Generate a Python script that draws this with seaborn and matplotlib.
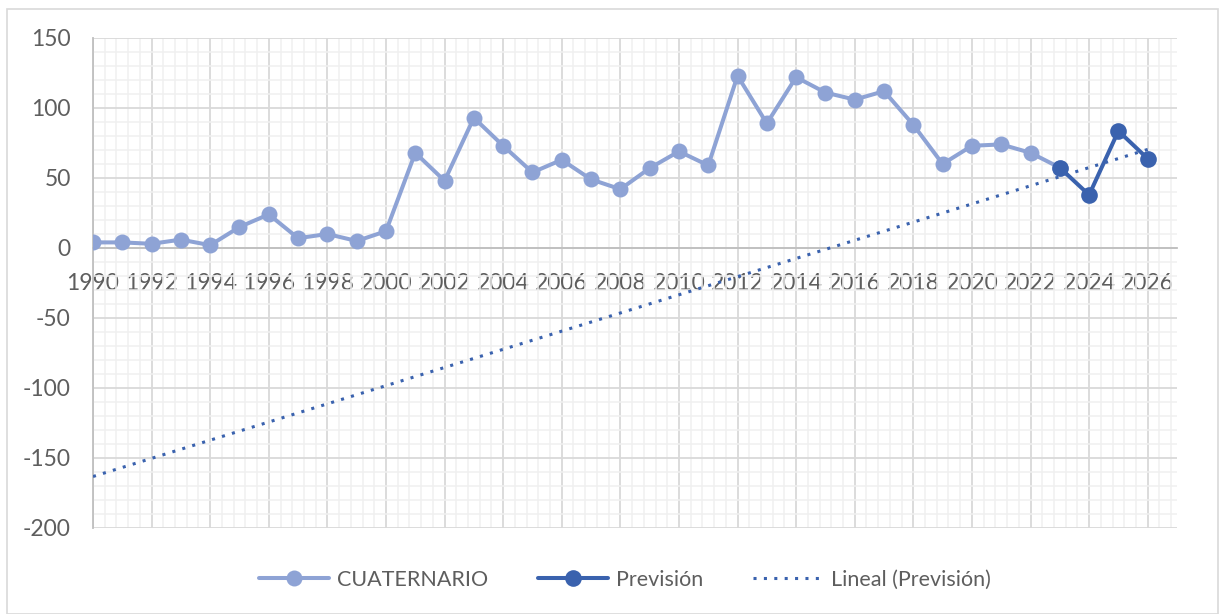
import numpy as np
import pandas as pd
import matplotlib
matplotlib.use("Agg")
import matplotlib.pyplot as plt
from matplotlib.ticker import MultipleLocator
from matplotlib.patches import Rectangle
import seaborn as sns

# Series data
years_hist = list(range(1990, 2024))
cuaternario = [4, 4, 3, 6, 2, 15, 24, 7, 10, 5, 12, 68, 48, 93, 73, 54, 63, 49, 42,
               57, 69, 59, 123, 89, 122, 111, 106, 112, 88, 60, 73, 74, 68, 57.4]
years_prev = [2023, 2024, 2025, 2026]
prevision = [57.4, 37.9, 83.6, 63.8]

# Linear trend of the forecast series, drawn across the full year span
coef = np.polyfit(years_prev, prevision, 1)
years_trend = np.array([1990, 2026])
trend = np.polyval(coef, years_trend)

light = "#8EA3D5"
dark = "#3A62AE"
text_color = "#5E5E5E"

sns.set_theme(style="white")
plt.rcParams["font.family"] = ["Lato", "DejaVu Sans"]
plt.rcParams["axes.unicode_minus"] = False

fig = plt.figure(figsize=(12.2, 6.14), dpi=100)
ax = fig.add_axes([93 / 1220, 1 - 528 / 614, (1177 - 93) / 1220, (528 - 38) / 614])

# Chart frame
fig.patches.append(Rectangle((7 / 1220, 0), 1 - 9 / 1220, 1 - 9 / 614,
                             transform=fig.transFigure, fill=False,
                             edgecolor="#D9D9D9", linewidth=1.2))

df_hist = pd.DataFrame({"year": years_hist, "value": cuaternario})
df_prev = pd.DataFrame({"year": years_prev, "value": prevision})
df_trend = pd.DataFrame({"year": years_trend, "value": trend})

sns.lineplot(data=df_hist, x="year", y="value", ax=ax, color=light, linewidth=2.9,
             marker="o", markersize=11.5, markeredgewidth=0, label="CUATERNARIO", zorder=3)
sns.lineplot(data=df_prev, x="year", y="value", ax=ax, color=dark, linewidth=2.9,
             marker="o", markersize=12, markeredgewidth=0, label="Previsión", zorder=4)
sns.lineplot(data=df_trend, x="year", y="value", ax=ax, color=dark, linewidth=2.2,
             linestyle=(0, (1, 2.4)), label="Lineal (Previsión)", zorder=5)

ax.set_xlim(1990, 2027)
ax.set_ylim(-200, 150)
ax.set_xlabel("")
ax.set_ylabel("")

ax.xaxis.set_major_locator(MultipleLocator(2))
ax.xaxis.set_minor_locator(MultipleLocator(0.4))
ax.yaxis.set_major_locator(MultipleLocator(50))
ax.yaxis.set_minor_locator(MultipleLocator(10))

ax.grid(which="major", color="#D9D9D9", linewidth=1.3)
ax.grid(which="minor", color="#F0F0F0", linewidth=1.1)
ax.set_axisbelow(True)

for s in ["top", "right"]:
    ax.spines[s].set_visible(False)
ax.spines["bottom"].set_position(("data", 0))
ax.spines["bottom"].set_color("#BFBFBF")
ax.spines["bottom"].set_linewidth(1.3)
ax.spines["left"].set_color("#BFBFBF")
ax.spines["left"].set_linewidth(1.3)

ax.tick_params(axis="both", which="major", length=6, width=1.2, color="#BFBFBF",
               labelsize=16.5, labelcolor=text_color, direction="out")
ax.tick_params(axis="x", which="major", pad=12)
ax.tick_params(axis="y", which="major", pad=10)
ax.tick_params(which="minor", length=0)

leg = ax.legend(loc="center", bbox_to_anchor=(625 / 1220, 1 - 580 / 614),
                bbox_transform=fig.transFigure, ncol=3, frameon=False,
                fontsize=15.5, handlelength=3.25, columnspacing=2.33, handletextpad=0.37)
for t in leg.get_texts():
    t.set_color(text_color)

fig.savefig("out.png", dpi=100)
